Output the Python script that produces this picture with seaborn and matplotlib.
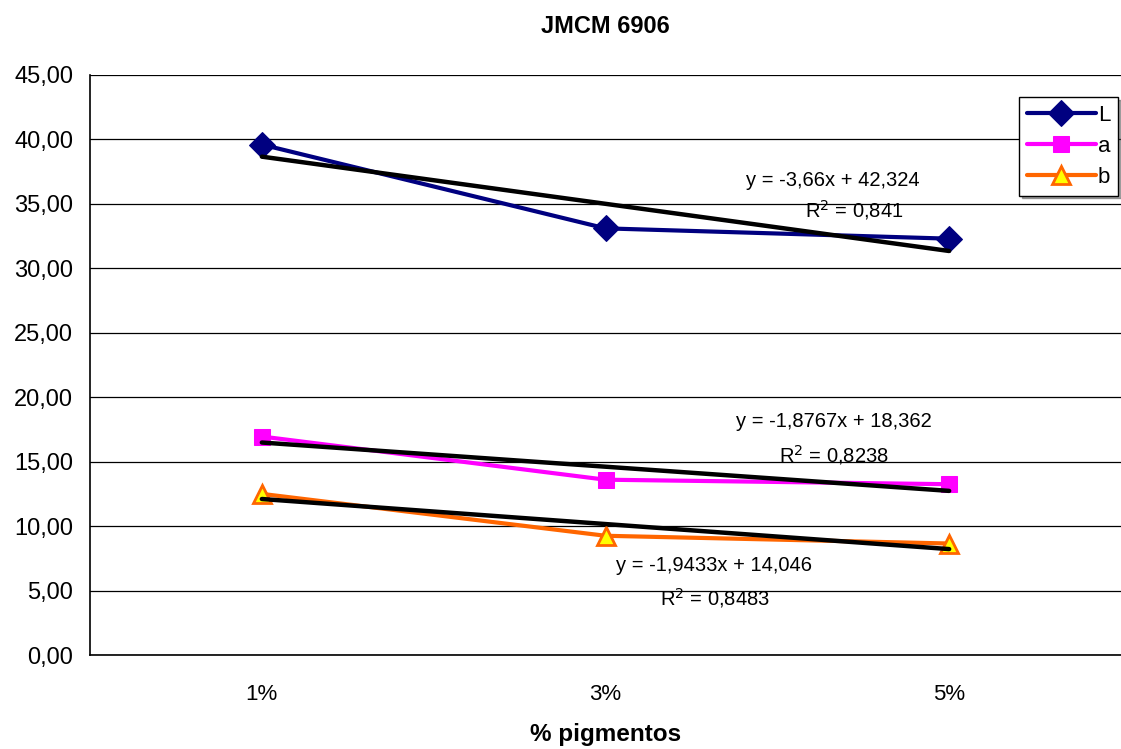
import numpy as np
import pandas as pd
import seaborn as sns
import matplotlib.pyplot as plt
from matplotlib.ticker import FuncFormatter, FixedLocator

sns.set_style("white")
plt.rcParams['font.family'] = ['Liberation Sans', 'DejaVu Sans']
plt.rcParams['text.color'] = 'black'
plt.rcParams['axes.labelcolor'] = 'black'
plt.rcParams['xtick.color'] = 'black'
plt.rcParams['ytick.color'] = 'black'

# dados
categorias = ["1%", "3%", "5%"]
pos = [1, 2, 3]
serie_L = [39.6, 33.1, 32.3]
serie_a = [16.95, 13.6, 13.25]
serie_b = [12.5, 9.25, 8.65]

# linhas de tendencia (Excel)
inclinacoes = [-3.66, -1.8767, -1.9433]
intercepcoes = [42.324, 18.362, 14.046]
r2 = [0.841, 0.8238, 0.8483]

series = {"L": serie_L, "a": serie_a, "b": serie_b}
estilos = {
    "L": dict(color="#000080", marker="D", markersize=13, markerfacecolor="#000080", markeredgecolor="#000080"),
    "a": dict(color="#FF00FF", marker="s", markersize=12, markerfacecolor="#FF00FF", markeredgecolor="#FF00FF"),
    "b": dict(color="#FF6600", marker="^", markersize=13, markerfacecolor="#FFFF00", markeredgecolor="#FF6600",
              markeredgewidth=2),
}

fig = plt.figure(figsize=(11.21, 7.49), dpi=100)
ax = fig.add_axes([0.0803, 0.1255, 0.9197, 0.7744])

for nome, valores in series.items():
    df = pd.DataFrame({"x": pos, "y": valores})
    sns.lineplot(data=df, x="x", y="y", ax=ax, linewidth=3, label=nome, **estilos[nome])

# tendencias
for m, b in zip(inclinacoes, intercepcoes):
    xs = np.array([pos[0], pos[-1]])
    sns.lineplot(x=xs, y=m * xs + b, ax=ax, color="black", linewidth=3.2, legend=False)


def fmt_num(v, casas):
    return f"{v:.{casas}f}".replace(".", ",")


def casas_de(v):
    s = repr(v)
    return len(s.split(".")[1]) if "." in s else 0


posicoes_txt = [(2.662, 36.85, 2.723, 34.5), (2.665, 18.15, 2.665, 15.5), (2.317, 6.98, 2.317, 4.42)]
for (m, b, r), (x1, y1, x2, y2) in zip(zip(inclinacoes, intercepcoes, r2), posicoes_txt):
    eq = f"y = {fmt_num(m, casas_de(m))}x + {fmt_num(b, casas_de(b))}"
    ax.text(x1, y1, eq, ha="center", va="center", fontsize=14.5)
    ax.text(x2, y2, f"R$^2$ = {fmt_num(r, casas_de(r))}", ha="center", va="center", fontsize=14.5)

ax.set_xlim(0.5, 3.5)
ax.set_ylim(0, 45)
ax.yaxis.set_major_locator(FixedLocator(np.arange(0, 46, 5)))
ax.yaxis.set_major_formatter(FuncFormatter(lambda v, p: fmt_num(v, 2)))
ax.grid(axis="y", color="black", linewidth=0.9)

ax.set_xticks([0.5, 1.5, 2.5, 3.5])
ax.set_xticklabels([])
ax.set_xticks(pos, minor=True)
ax.set_xticklabels(categorias, minor=True)
ax.tick_params(axis="x", which="major", direction="out", length=8, width=0.9, color="black")
ax.tick_params(axis="x", which="minor", length=0, pad=21, labelsize=16)
ax.tick_params(axis="y", direction="out", length=8, width=0.9, color="black", labelsize=17, pad=4)

for lado in ["top", "right"]:
    ax.spines[lado].set_visible(False)
for lado in ["left", "bottom"]:
    ax.spines[lado].set_color("black")
    ax.spines[lado].set_linewidth(1.2)

ax.set_title("JMCM 6906", fontsize=17, fontweight="bold", pad=30)
ax.set_xlabel("% pigmentos", fontsize=17.5, fontweight="bold", labelpad=13)
ax.set_ylabel("")

leg = ax.legend(loc="upper left", bbox_to_anchor=(0.901, 0.962), frameon=True, fancybox=False, shadow=True,
                fontsize=16, handlelength=3.1, borderpad=0.35, labelspacing=0.45, handletextpad=0.1,
                borderaxespad=0)
leg.get_frame().set_edgecolor("black")
leg.get_frame().set_linewidth(1.0)

fig.savefig("out.png", dpi=100)
